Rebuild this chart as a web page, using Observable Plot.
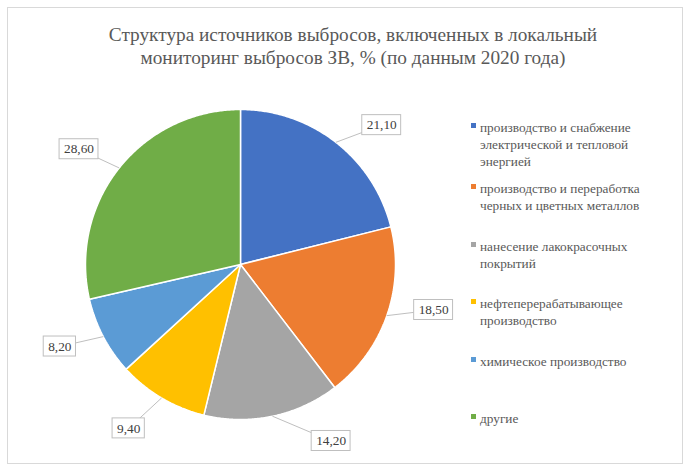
<!DOCTYPE html>
<html>
<head>
<meta charset="utf-8">
<script src="https://cdn.jsdelivr.net/npm/d3@7"></script>
<script src="https://cdn.jsdelivr.net/npm/@observablehq/plot@0.6"></script>
<style>
  html, body { margin: 0; padding: 0; background: #fff; }
  #wrap { position: relative; width: 691px; height: 473px; overflow: hidden; font-family: "Liberation Serif", "Times New Roman", "Liberation Sans", sans-serif; }
  #frame { position: absolute; left: 7px; top: 7px; width: 676px; height: 457px; box-sizing: border-box; border: 1px solid #d9d9d9; }
  #title { position: absolute; left: 53px; width: 600px; top: 23px; text-align: center; font-size: 19.3px; line-height: 23px; color: #595959; }
  #chart { position: absolute; left: 0; top: 80px; }
  #legend { position: absolute; left: 471px; top: 119px; color: #595959; font-size: 13.3px; line-height: 17px; }
  .item { display: flex; align-items: flex-start; height: 57.5px; }
  .item:first-child { height: 61px; }
  .sw { width: 5px; height: 5px; margin-top: 4px; margin-right: 4px; flex: none; }
  .lbl { width: 186px; }
</style>
</head>
<body>
<div id="wrap">
  <div id="frame"></div>
  <div id="title"></div>
  <div id="chart"></div>
  <div id="legend"></div>
</div>
<script>
const titleLines = ["Структура источников выбросов, включенных в локальный", "мониторинг выбросов ЗВ, % (по данным 2020 года)"];
const categories = [
  "производство и снабжение электрической и тепловой энергией",
  "производство и переработка черных и цветных металлов",
  "нанесение лакокрасочных покрытий",
  "нефтеперерабатывающее производство",
  "химическое производство",
  "другие"
];
const values = [21.10, 18.50, 14.20, 9.40, 8.20, 28.60];
const colors = ["#4472C4", "#ED7D31", "#A5A5A5", "#FFC000", "#5B9BD5", "#70AD47"];

// layout settings (not data)
const R = 155;                 // pie radius in px
const labelRadius = 1.28;      // in units of radius
const labelNudgeDeg = [7.4, -6, -15.3, 3.7, 3.3, -3];
const boxH = 20;
const fontFam = "Liberation Serif, Times New Roman, Liberation Sans, sans-serif";

document.getElementById("title").innerHTML = titleLines.map(t => `<div>${t}</div>`).join("");

const arcs = d3.pie().sort(null).value(d => d)(values);
const fmt = v => v.toFixed(2).replace(".", ",");

const marks = [];
arcs.forEach((a, i) => {
  const n = Math.max(2, Math.ceil((a.endAngle - a.startAngle) / (Math.PI / 360)));
  const pts = [{x: 0, y: 0}];
  for (let k = 0; k <= n; k++) {
    const t = a.startAngle + (a.endAngle - a.startAngle) * k / n;
    pts.push({x: Math.sin(t), y: Math.cos(t)});
  }
  pts.push({x: 0, y: 0});
  marks.push(Plot.line(pts, {x: "x", y: "y", fill: colors[i], stroke: "white", strokeWidth: 1.5, strokeLinejoin: "miter", curve: "linear"}));
});

const labels = arcs.map((a, i) => {
  const mid = (a.startAngle + a.endAngle) / 2;
  const la = mid + labelNudgeDeg[i] * Math.PI / 180;
  const text = fmt(values[i]);
  const w = (text.length - 1) * 6.65 + 3.3 + 9;
  return {
    text,
    ax: Math.sin(mid), ay: Math.cos(mid),
    lx: labelRadius * Math.sin(la), ly: labelRadius * Math.cos(la),
    hw: w / 2 / R, hh: boxH / 2 / R
  };
});

marks.push(Plot.link(labels, {x1: "ax", y1: "ay", x2: "lx", y2: "ly", stroke: "#bfbfbf", strokeWidth: 1}));
marks.push(Plot.rect(labels, {x1: d => d.lx - d.hw, x2: d => d.lx + d.hw, y1: d => d.ly - d.hh, y2: d => d.ly + d.hh, fill: "white", stroke: "#bfbfbf", strokeWidth: 1}));
marks.push(Plot.text(labels, {x: "lx", y: "ly", text: "text", fontSize: 13.3, fontFamily: fontFam, fill: "#404040"}));

const chart = Plot.plot({
  width: 460,
  height: 393,
  margin: 0,
  x: {domain: [-1, 1], range: [85, 395], axis: null},
  y: {domain: [1, -1], range: [29, 339], axis: null},
  style: {background: "transparent", overflow: "visible"},
  marks
});
document.getElementById("chart").appendChild(chart);

document.getElementById("legend").innerHTML = categories.map((c, i) =>
  `<div class="item"><span class="sw" style="background:${colors[i]}"></span><span class="lbl">${c}</span></div>`
).join("");
</script>
</body>
</html>
